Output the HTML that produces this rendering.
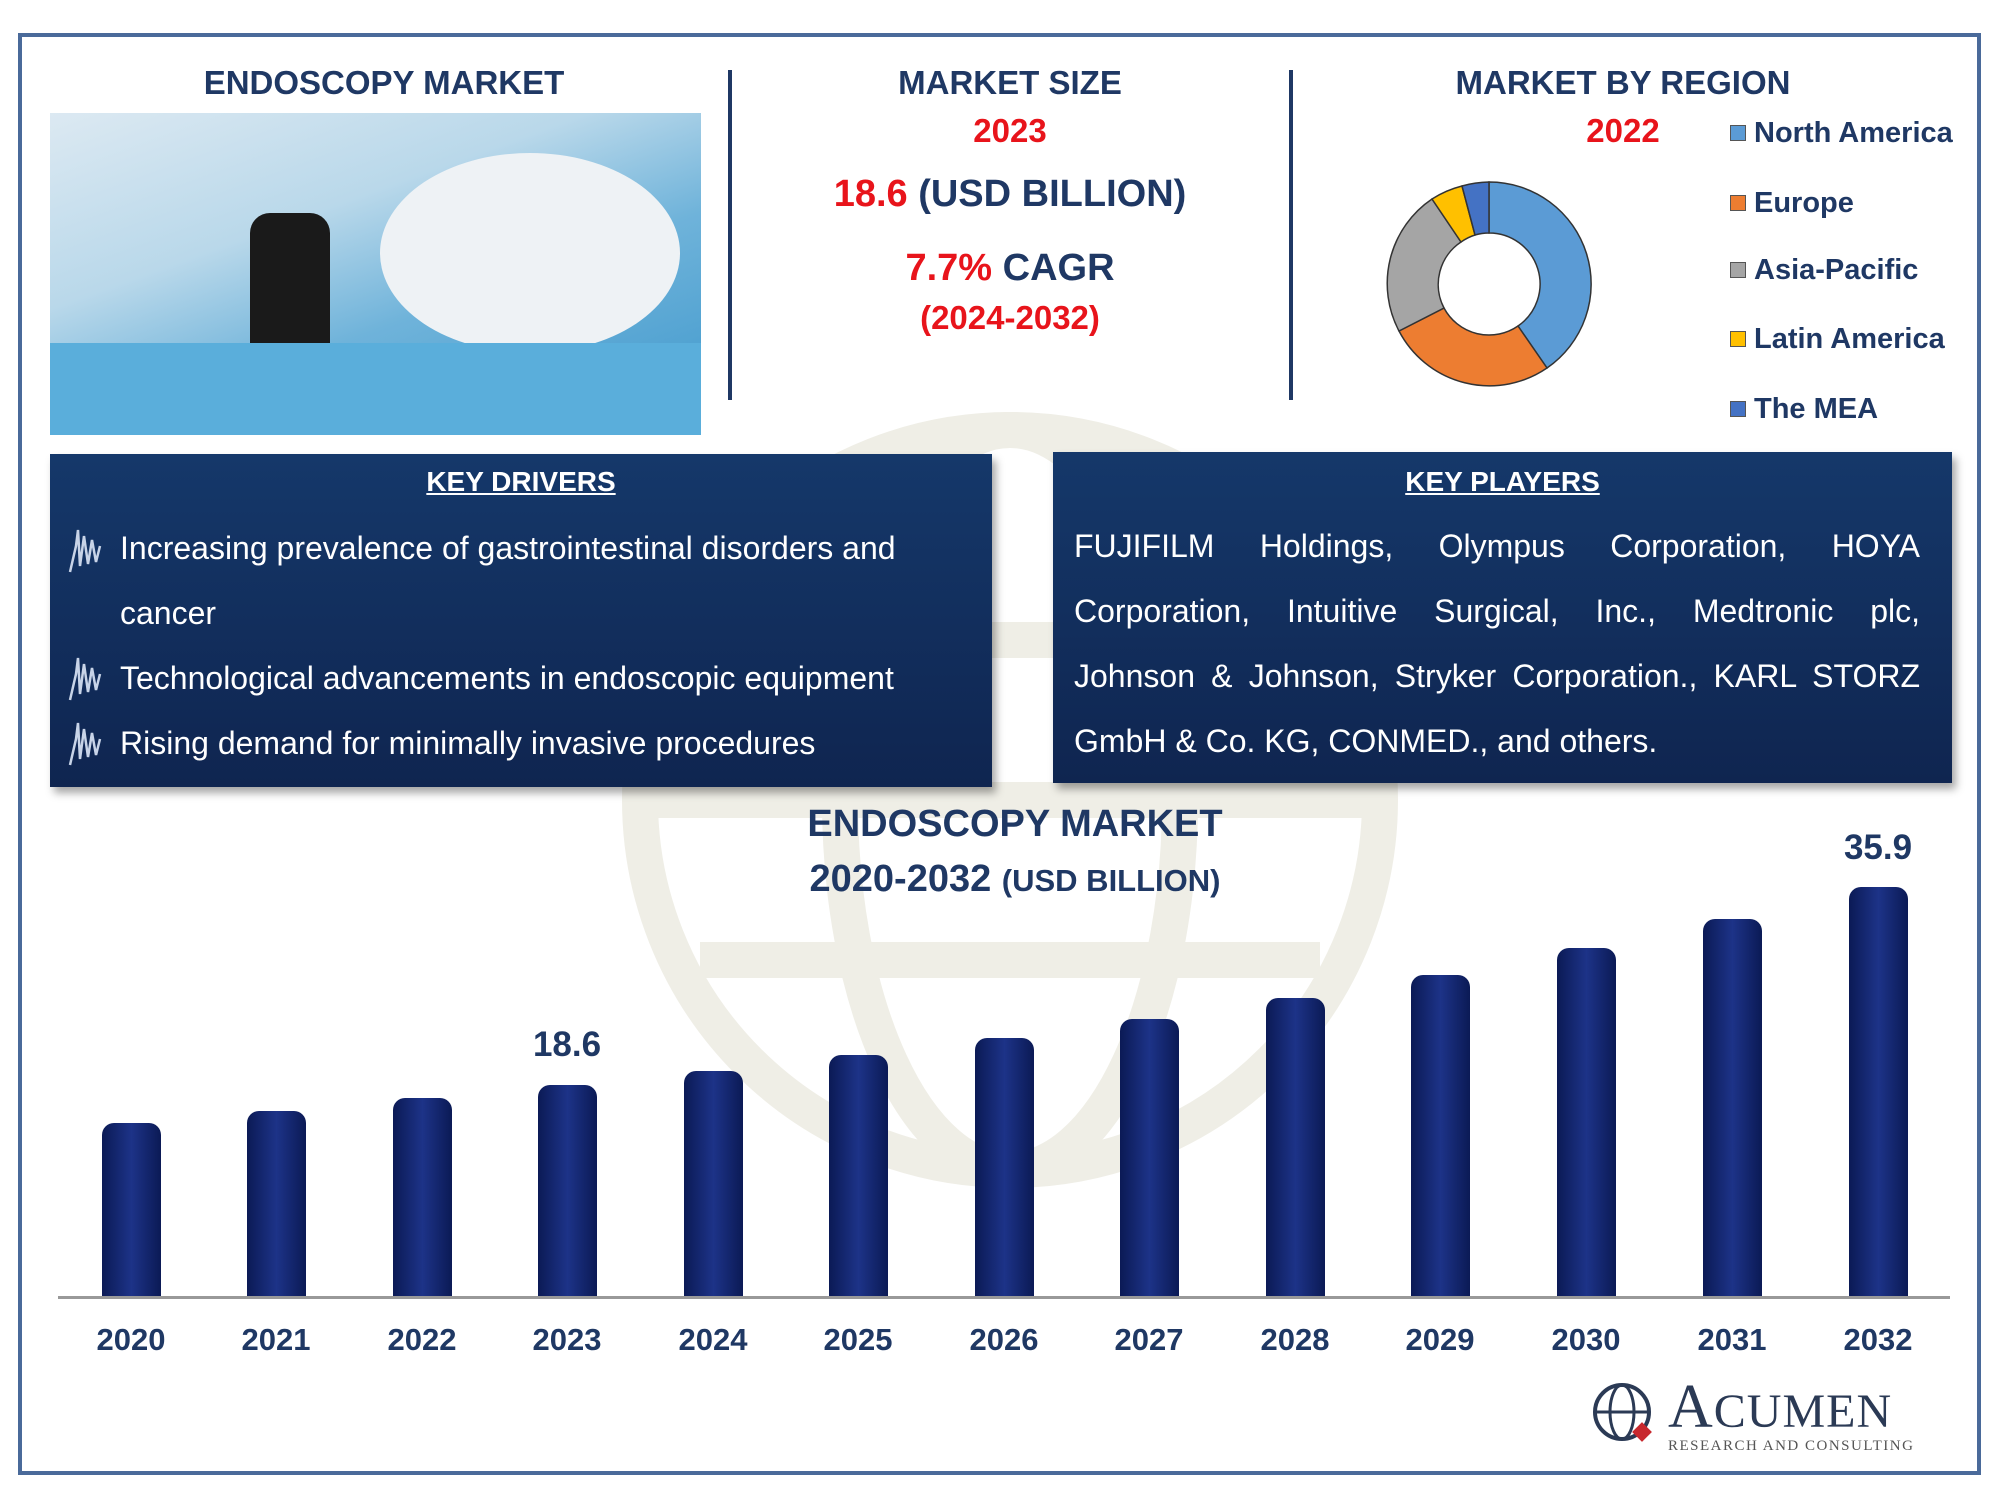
<!DOCTYPE html>
<html><head><meta charset="utf-8">
<style>
*{margin:0;padding:0;box-sizing:border-box}
body{width:2000px;height:1500px;background:#fff;font-family:"Liberation Sans",sans-serif;position:relative;overflow:hidden}
.abs{position:absolute}
.h{font-weight:bold;color:#1f3864;text-align:center}
.red{color:#e8141b}
.box{background:linear-gradient(#15386a,#0f2550);box-shadow:4px 6px 8px rgba(0,0,0,.35);color:#fff}
.box .t{font-size:28px;font-weight:bold;text-decoration:underline;text-align:center;position:absolute;left:0;right:0}
.line{position:absolute;font-size:32px;white-space:nowrap}
.jl{position:absolute;left:21px;width:846px;font-size:32px;text-align:justify;text-align-last:justify;white-space:nowrap}
.bar{position:absolute;width:59px;background:linear-gradient(90deg,#0b1a55,#1d3388 50%,#0b1a55);border-radius:12px 12px 0 0}
.yr{position:absolute;width:120px;text-align:center;font-size:31px;font-weight:bold;color:#1f3864;top:1322px}
.lg{position:absolute;left:1730px;font-size:29px;font-weight:bold;color:#1f3864}
.lg i{display:inline-block;width:16px;height:16px;margin-right:8px;vertical-align:1px;border:1px solid #555}
.ic{position:absolute;left:16px}
</style></head><body>
<div class="abs" style="left:18px;top:33px;width:1963px;height:1442px;border:4px solid #4a6a9a"></div>
<svg class="abs" style="left:0;top:0" width="2000" height="1500">
<g fill="none" stroke="#efeee6" stroke-width="36">
<circle cx="1010" cy="800" r="370"/>
<ellipse cx="1010" cy="800" rx="170" ry="370"/>
<line x1="640" y1="800" x2="1380" y2="800"/>
<line x1="700" y1="640" x2="1320" y2="640"/>
<line x1="700" y1="960" x2="1320" y2="960"/>
</g></svg>
<div class="abs h" style="left:134px;width:500px;top:64px;font-size:33px">ENDOSCOPY MARKET</div>
<div class="abs" style="left:50px;top:113px;width:651px;height:322px;background:linear-gradient(160deg,#dce9f2 0%,#b9d8ea 35%,#6fb3da 60%,#3d97cc 100%);overflow:hidden">
<div class="abs" style="left:330px;top:40px;width:300px;height:200px;background:#eef2f5;border-radius:50%"></div>
<div class="abs" style="left:200px;top:100px;width:80px;height:200px;background:#1a1a1a;border-radius:20px"></div>
<div class="abs" style="left:0;top:230px;width:651px;height:100px;background:#5aaedb"></div>
</div>
<div class="abs" style="left:728px;top:70px;width:4px;height:330px;background:#1f3864"></div>
<div class="abs" style="left:1289px;top:70px;width:4px;height:330px;background:#1f3864"></div>
<div class="abs h" style="left:760px;width:500px;top:64px;font-size:33px">MARKET SIZE</div>
<div class="abs h red" style="left:760px;width:500px;top:112px;font-size:33px">2023</div>
<div class="abs h" style="left:760px;width:500px;top:173px;font-size:38px"><span class="red">18.6</span> (USD BILLION)</div>
<div class="abs h" style="left:760px;width:500px;top:247px;font-size:38px"><span class="red">7.7%</span> CAGR</div>
<div class="abs h red" style="left:760px;width:500px;top:299px;font-size:33px">(2024-2032)</div>
<div class="abs h" style="left:1373px;width:500px;top:64px;font-size:33px">MARKET BY REGION</div>
<div class="abs h red" style="left:1523px;width:200px;top:112px;font-size:33px">2022</div>
<svg class="abs" style="left:1380px;top:176px" width="220" height="220">
<g transform="translate(109,108)" stroke="#333" stroke-width="1.5">
<path d="M0,-102 A102,102 0 0 1 58,84 L29,42 A51,51 0 0 0 0,-51Z" fill="#5b9bd5"/>
<path d="M58,84 A102,102 0 0 1 -90,47 L-45,24 A51,51 0 0 0 29,42Z" fill="#ed7d31"/>
<path d="M-90,47 A102,102 0 0 1 -57,-85 L-28,-42 A51,51 0 0 0 -45,24Z" fill="#a5a5a5"/>
<path d="M-57,-85 A102,102 0 0 1 -27,-98 L-14,-49 A51,51 0 0 0 -28,-42Z" fill="#ffc000"/>
<path d="M-27,-98 A102,102 0 0 1 0,-102 L0,-51 A51,51 0 0 0 -14,-49Z" fill="#4472c4"/>
</g></svg>
<div class="lg" style="top:117px"><i style="background:#5b9bd5"></i>North America</div>
<div class="lg" style="top:187px"><i style="background:#ed7d31"></i>Europe</div>
<div class="lg" style="top:254px"><i style="background:#a5a5a5"></i>Asia-Pacific</div>
<div class="lg" style="top:323px"><i style="background:#ffc000"></i>Latin America</div>
<div class="lg" style="top:393px"><i style="background:#4472c4"></i>The MEA</div>
<div class="abs box" style="left:50px;top:454px;width:942px;height:333px">
<div class="t" style="top:12px">KEY DRIVERS</div>
<svg class="ic" style="top:72px" width="40" height="50"><path d="M4,46 L10,20 L12,4 L14,40 L18,10 L22,38 L26,14 L30,36 L34,20" fill="none" stroke="#c8d4e8" stroke-width="2.5"/></svg>
<svg class="ic" style="top:200px" width="40" height="50"><path d="M4,46 L10,20 L12,4 L14,40 L18,10 L22,38 L26,14 L30,36 L34,20" fill="none" stroke="#c8d4e8" stroke-width="2.5"/></svg>
<svg class="ic" style="top:265px" width="40" height="50"><path d="M4,46 L10,20 L12,4 L14,40 L18,10 L22,38 L26,14 L30,36 L34,20" fill="none" stroke="#c8d4e8" stroke-width="2.5"/></svg>
<div class="line" style="left:70px;top:76px">Increasing prevalence of gastrointestinal disorders and</div>
<div class="line" style="left:70px;top:141px">cancer</div>
<div class="line" style="left:70px;top:206px">Technological advancements in endoscopic equipment</div>
<div class="line" style="left:70px;top:271px">Rising demand for minimally invasive procedures</div>
</div>
<div class="abs box" style="left:1053px;top:452px;width:899px;height:331px">
<div class="t" style="top:14px">KEY PLAYERS</div>
<div class="jl" style="top:76px">FUJIFILM Holdings, Olympus Corporation, HOYA</div>
<div class="jl" style="top:141px">Corporation, Intuitive Surgical, Inc., Medtronic plc,</div>
<div class="jl" style="top:206px">Johnson &amp; Johnson, Stryker Corporation., KARL STORZ</div>
<div class="abs" style="left:21px;top:271px;font-size:32px;white-space:nowrap">GmbH &amp; Co. KG, CONMED., and others.</div>
</div>
<div class="abs h" style="left:715px;width:600px;top:803px;font-size:38px">ENDOSCOPY MARKET</div>
<div class="abs h" style="left:715px;width:600px;top:858px;font-size:38px">2020-2032 <span style="font-size:31px">(USD BILLION)</span></div>
<div class="abs" style="left:58px;top:1296px;width:1892px;height:3px;background:#999"></div>
<div class="bar" style="left:102px;top:1123px;height:173px"></div>
<div class="bar" style="left:247px;top:1111px;height:185px"></div>
<div class="bar" style="left:393px;top:1098px;height:198px"></div>
<div class="bar" style="left:538px;top:1085px;height:211px"></div>
<div class="bar" style="left:684px;top:1071px;height:225px"></div>
<div class="bar" style="left:829px;top:1055px;height:241px"></div>
<div class="bar" style="left:975px;top:1038px;height:258px"></div>
<div class="bar" style="left:1120px;top:1019px;height:277px"></div>
<div class="bar" style="left:1266px;top:998px;height:298px"></div>
<div class="bar" style="left:1411px;top:975px;height:321px"></div>
<div class="bar" style="left:1557px;top:948px;height:348px"></div>
<div class="bar" style="left:1703px;top:919px;height:377px"></div>
<div class="bar" style="left:1849px;top:887px;height:409px"></div>
<div class="abs h" style="left:507px;width:120px;top:1025px;font-size:35px">18.6</div>
<div class="abs h" style="left:1818px;width:120px;top:828px;font-size:35px">35.9</div>
<div class="yr" style="left:71px">2020</div><div class="yr" style="left:216px">2021</div><div class="yr" style="left:362px">2022</div><div class="yr" style="left:507px">2023</div><div class="yr" style="left:653px">2024</div><div class="yr" style="left:798px">2025</div><div class="yr" style="left:944px">2026</div><div class="yr" style="left:1089px">2027</div><div class="yr" style="left:1235px">2028</div><div class="yr" style="left:1380px">2029</div><div class="yr" style="left:1526px">2030</div><div class="yr" style="left:1672px">2031</div><div class="yr" style="left:1818px">2032</div>
<svg class="abs" style="left:1585px;top:1375px" width="80" height="80">
<circle cx="37" cy="37" r="27" fill="none" stroke="#2b3a55" stroke-width="4"/>
<ellipse cx="37" cy="37" rx="12" ry="27" fill="none" stroke="#2b3a55" stroke-width="3"/>
<line x1="10" y1="37" x2="64" y2="37" stroke="#2b3a55" stroke-width="3"/>
<rect x="50" y="50" width="14" height="14" fill="#c8282e" transform="rotate(45 57 57)"/>
</svg>
<div class="abs" style="left:1668px;top:1372px;font-family:'Liberation Serif',serif;font-size:62px;color:#2b3a55;letter-spacing:1px">A<span style="font-size:48px">CUMEN</span></div>
<div class="abs" style="left:1668px;top:1438px;font-family:'Liberation Serif',serif;font-size:15px;color:#555;letter-spacing:1.5px">RESEARCH AND CONSULTING</div>
</body></html>
